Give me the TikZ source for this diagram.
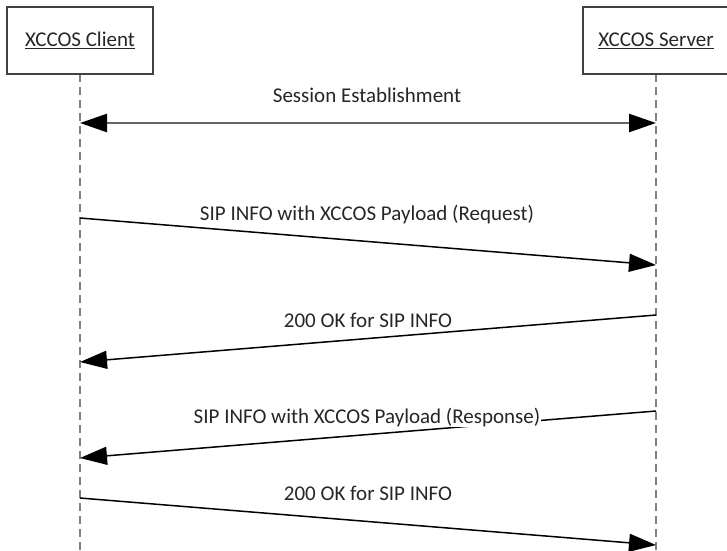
\documentclass[tikz,border=0pt]{standalone}
\usepackage{fontspec}
\setmainfont{Carlito}
\usetikzlibrary{arrows.meta}
\tikzset{
	actor/.style={draw=black!75, line width=1.5pt, fill=white, minimum width=146pt, minimum height=67pt, inner sep=0pt, text=black!85, font=\fontsize{21}{25}\selectfont},
	lifeline/.style={draw=black!50, line width=1.5pt, dash pattern=on 8pt off 5pt},
	msg/.style={line width=1.5pt, -{Triangle[length=27pt,width=18pt]}},
	msglabel/.style={fill=white, inner sep=1pt, text=black!85, font=\fontsize{21}{25}\selectfont}
}
\begin{document}
\begin{tikzpicture}[x=1pt,y=1pt]
		\useasboundingbox (0,0) rectangle (727,-550);
		% lifelines
		\coordinate (clientend) at (80,-550);
		\coordinate (serverend) at (656,-550);
		\draw[lifeline] (80,-74) -- (clientend);
		\draw[lifeline] (656,-74) -- (serverend);
		\node[actor] (client) at (80,-40.5) {\underline{XCCOS Client}};
		\node[actor] (server) at (656,-40.5) {\underline{XCCOS Server}};

		% end points on the lifelines
		\coordinate (cA) at (80,-123);
		\coordinate (sA) at (656,-123);
		\coordinate (cB) at (80,-218);
		\coordinate (sB) at (656,-265);
		\coordinate (sC) at (656,-315);
		\coordinate (cC) at (80,-362);
		\coordinate (sD) at (656,-411);
		\coordinate (cD) at (80,-458);
		\coordinate (cE) at (80,-498);
		\coordinate (sE) at (656,-545);

		\draw[line width=2.5pt, draw=black!60, {Triangle[length=27pt,width=18pt,black]}-{Triangle[length=27pt,width=18pt,black]}] (cA) -- (sA);
		\draw[msg] (cB) -- (sB);
		\draw[msg] (sC) -- (cC);
		\draw[msg] (sD) -- (cD);
		\draw[msg] (cE) -- (sE);

		\node[msglabel] (session) at (367,-95) {Session Establishment};
		\node[msglabel] (request) at (367,-215) {SIP INFO with XCCOS Payload (Request)};
		\node[msglabel] (okreq) at (368,-320) {200 OK for SIP INFO};
		\node[msglabel] (response) at (367,-417) {SIP INFO with XCCOS Payload (Response)};
		\node[msglabel] (okresp) at (368,-493) {200 OK for SIP INFO};
	\end{tikzpicture}
\end{document}
